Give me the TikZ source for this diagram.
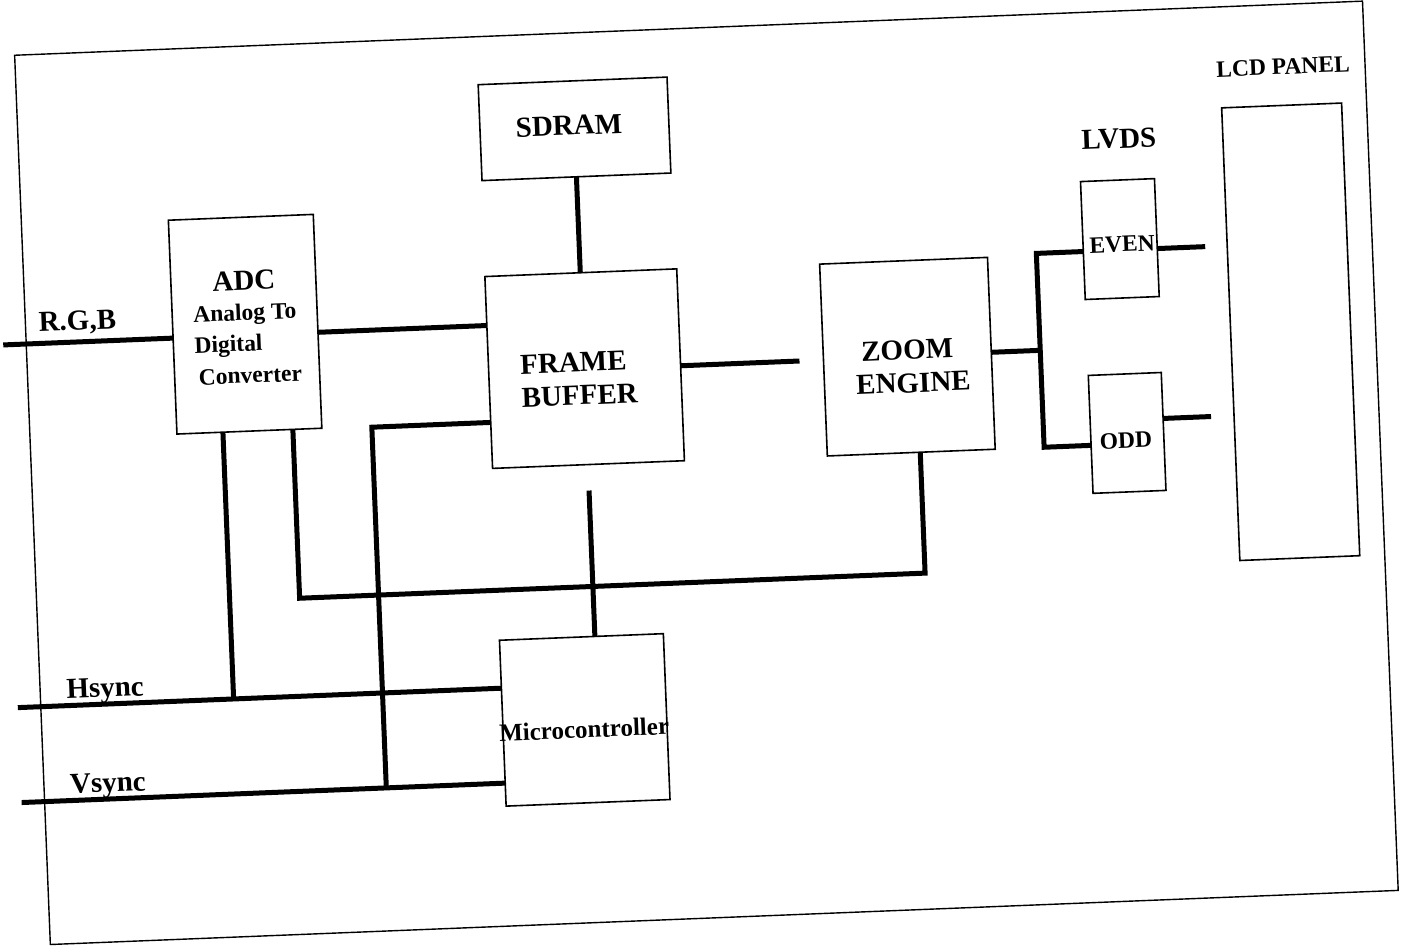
\documentclass[tikz,border=0pt]{standalone}
\usepackage{fontspec}
\setmainfont{Liberation Serif}
\begin{document}
\begin{tikzpicture}[x=1pt,y=-1pt,
  box/.style={draw, line width=1.6pt, inner sep=0pt, outer sep=0pt},
  wire/.style={line width=5pt},
  big/.style={font=\bfseries\fontsize{29}{33}\selectfont, inner sep=0pt},
  small/.style={font=\bfseries\fontsize{23.5}{28}\selectfont, inner sep=0pt}]
\useasboundingbox (0,0) rectangle (1404,951);
\begin{scope}[rotate around={2.3:(702,475)}, transform shape]
  % frame and boxes
  \node[box, line width=1.4pt, minimum width=1349pt, minimum height=890pt] (frame) at (706.5,473) {};
  \node[box, minimum width=145pt, minimum height=214pt] (adc) at (251.5,306) {};
  \node[box, minimum width=189pt, minimum height=96pt] (sdram) at (588.5,124) {};
  \node[box, minimum width=192pt, minimum height=192pt] (fb) at (589,364) {};
  \node[box, minimum width=168pt, minimum height=192pt] (zoom) at (912,365) {};
  \node[box, minimum width=74pt, minimum height=118pt] (even) at (1129,256) {};
  \node[box, minimum width=73pt, minimum height=118pt] (odd) at (1128.5,450) {};
  \node[box, minimum width=120pt, minimum height=453pt] (lcd) at (1296,355.5) {};
  \node[box, minimum width=164pt, minimum height=166pt] (micro) at (575,715) {};

  % free ends and junctions
  \coordinate (rgbin) at (9,317);
  \coordinate (hs) at (9,680);
  \coordinate (vs) at (9,775);
  \coordinate (fbout) at (804,365);
  \coordinate (split) at (1045,364);
  \coordinate (brtop) at (1045,267);
  \coordinate (brbot) at (1045,461);
  \coordinate (evenout) at (1214,267);
  \coordinate (oddout) at (1213,437);
  \coordinate (adcL) at (225,680);
  \coordinate (loopL) at (295,582);
  \coordinate (loopR) at (921,582);
  \coordinate (fbL) at (374,414);
  \coordinate (fbLd) at (374,775);
  \coordinate (fbdown) at (588.5,486);

  % wires
  \draw[wire] (rgbin) -- (rgbin -| adc.west);
  \draw[wire] (adc.east |- rgbin) -- (fb.west |- rgbin);
  \draw[wire] (sdram.south) -- (sdram.south |- fb.north);
  \draw[wire] (fb.east |- fbout) -- (fbout);
  \draw[wire] (zoom.east |- split) -- (split);
  \draw[wire] (even.west |- brtop) -- (brtop) -- (brbot) -- (odd.west |- brbot);
  \draw[wire] (even.east |- evenout) -- (evenout);
  \draw[wire] (odd.east |- oddout) -- (oddout);
  \draw[wire] (hs) -- (hs -| micro.west);
  \draw[wire] (vs) -- (vs -| micro.west);
  \draw[wire] (adc.south -| adcL) -- (adcL);
  \draw[wire] (adc.south -| loopL) -- (loopL) -- (loopR) -- (zoom.south -| loopR);
  \draw[wire] (fb.west |- fbL) -- (fbL) -- (fbLd);
  \draw[wire] (fbdown) -- (micro.north -| fbdown);

  % texts
  \node[big, anchor=base] (tsdram) at (583,130) {SDRAM};
  \node[big, anchor=base] (tframe) at (578,367) {FRAME};
  \node[big, anchor=base] (tbuffer) at (583,400) {BUFFER};
  \node[big, anchor=base] (tzoom) at (912,368) {ZOOM};
  \node[big, anchor=base] (tengine) at (917,401) {ENGINE};
  \node[big, anchor=base] (tadc) at (252,272) {ADC};
  \node[small, anchor=base west] (tanalog) at (200,302) {Analog To};
  \node[small, anchor=base west] (tdigital) at (200,333) {Digital};
  \node[small, anchor=base west] (tconv) at (203,365) {Converter};
  \node[big, anchor=base] (tlvds) at (1132,165) {LVDS};
  \node[small, anchor=base] (tlcd) at (1299,98) {LCD PANEL};
  \node[small, anchor=base] (teven) at (1131,269) {EVEN};
  \node[small, anchor=base] (todd) at (1127,465) {ODD};
  \node[small, font=\bfseries\fontsize{25}{28}\selectfont, anchor=base] (tmicro) at (574,733) {Microcontroller};
  \node[big, anchor=base] (trgb) at (84,305) {R.G,B};
  \node[big, anchor=base] (thsync) at (97,673) {Hsync};
  \node[big, anchor=base] (tvsync) at (96,768) {Vsync};
\end{scope}
\end{tikzpicture}
\end{document}
